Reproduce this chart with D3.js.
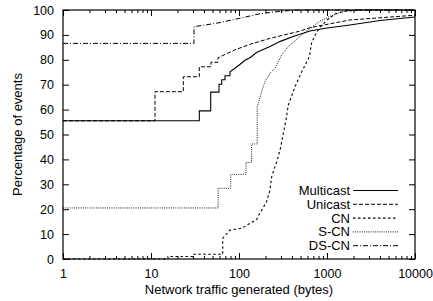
<!DOCTYPE html>
<html>
<head>
<meta charset="utf-8">
<script src="https://cdn.jsdelivr.net/npm/d3@7"></script>
<style>
  body { margin: 0; background: #fff; }
  svg { display: block; font-family: "Liberation Sans", Arial, Helvetica, sans-serif; }
  .axis text { font-size: 12.5px; fill: #000; }
  .axis line { stroke: #000; stroke-width: 1; }
  .axis path { display: none; }
</style>
</head>
<body>
<svg id="svg" width="433" height="301"></svg>
<script>
// cumulative percentage of events vs bytes generated, [bytes, percent]
var multicast = [[1,55.5],[35.4,55.5],[35.4,59.5],[47.7,59.5],[47.7,67],[59.3,67],[59.3,70.2],[63.6,70.2],[63.6,72],
  [69.3,72],[69.3,73.6],[79,73.6],[79,75.2],[90,76.6],[103,78.2],[117,79.8],[133,80.8],[160,83],[225,85.3],[300,87.5],
  [420,89.5],[640,91.6],[1000,92.8],[1820,94],[4000,95.8],[10000,97.2]];
var unicast = [[1,55.5],[11.1,55.5],[11.1,67.2],[23.3,67.2],[23.3,73.2],[35.4,73.2],[35.4,77.2],[48,77.2],[48,79],
  [57.6,79],[57.6,80.8],[70,82.2],[90,84],[133,86.2],[225,88.6],[490,91.5],[640,92.9],[1820,96],[10000,97.9]];
var cn = [[1,0],[15.6,0],[15.6,1],[30,1],[30,1.9],[65.3,1.9],[65.3,8.3],[79,11.6],[107,12.3],[159,15.9],[170,18],
  [206,23],[225,27.7],[235,33],[250,36],[273,39.8],[298,45],[319,50.5],[342,55.8],[363,61.8],[433,69.2],[516,75.2],
  [630,81.2],[670,87],[750,90.6],[832,93],[1000,96],[1250,98.5],[1600,99.6],[2500,100],[10000,100]];
var scn = [[1,20.5],[58,20.5],[58,28.4],[80.5,28.4],[80.5,34],[120,34],[120,38.8],[139,38.8],[139,46.2],[161,46.2],
  [161,61],[181,67.2],[197,71.2],[225,74.6],[256,76.6],[305,81.9],[363,85.3],[516,90],[641,92.6],[832,95.5],
  [1082,97.5],[1500,99.3],[2200,100],[10000,100]];
var dscn = [[1,86.6],[30.8,86.6],[30.8,93.3],[55.8,94.7],[103,96.7],[173,98.5],[300,99.5],[480,100],[10000,100]];

var seriesNames = ["Multicast", "Unicast", "CN", "S-CN", "DS-CN"];
var seriesData = [multicast, unicast, cn, scn, dscn];

var xMajor = [1, 10, 100, 1000, 10000];
var yTicks = [0, 10, 20, 30, 40, 50, 60, 70, 80, 90, 100];

var margin = {top: 10, right: 18, bottom: 42, left: 63};
var W = 433, H = 301;

var styles = [
  {dash: null, width: 1.1},
  {dash: "4,2", width: 1},
  {dash: "2.5,2.5", width: 1.1},
  {dash: "1,1.2", width: 0.9},
  {dash: "5,2,1,2", width: 1}
];

var x = d3.scaleLog().domain([1, 10000]).range([margin.left, W - margin.right]);
var y = d3.scaleLinear().domain([0, 100]).range([H - margin.bottom, margin.top]);

var xMinor = [];
xMajor.slice(0, -1).forEach(function(d) {
  for (var k = 2; k < 10; k++) xMinor.push(d * k);
});

const svg = d3.select("#svg");

// x axes (bottom with labels, top mirrored)
svg.append("g")
    .attr("class", "axis")
    .attr("transform", "translate(0," + y(0) + ")")
    .call(d3.axisBottom(x).tickValues(xMajor).tickSize(-6).tickPadding(10).tickFormat(d3.format("d")));
svg.append("g")
    .attr("class", "axis")
    .attr("transform", "translate(0," + y(0) + ")")
    .call(d3.axisBottom(x).tickValues(xMinor).tickSize(-3).tickFormat(""));
svg.append("g")
    .attr("class", "axis")
    .attr("transform", "translate(0," + y(100) + ")")
    .call(d3.axisTop(x).tickValues(xMajor).tickSize(-6).tickFormat(""));
svg.append("g")
    .attr("class", "axis")
    .attr("transform", "translate(0," + y(100) + ")")
    .call(d3.axisTop(x).tickValues(xMinor).tickSize(-3).tickFormat(""));

// y axes
svg.append("g")
    .attr("class", "axis")
    .attr("transform", "translate(" + x(1) + ",0)")
    .call(d3.axisLeft(y).tickValues(yTicks).tickSize(-6).tickPadding(9));
svg.append("g")
    .attr("class", "axis")
    .attr("transform", "translate(" + x(10000) + ",0)")
    .call(d3.axisRight(y).tickValues(yTicks).tickSize(-6).tickFormat(""));

// frame
svg.append("rect")
    .attr("x", x(1))
    .attr("y", y(100))
    .attr("width", x(10000) - x(1))
    .attr("height", y(0) - y(100))
    .style("fill", "none")
    .style("stroke", "#000")
    .style("stroke-width", 1.2);

var line = d3.line()
    .x(function(d) { return x(d[0]); })
    .y(function(d) { return y(d[1]); });

svg.append("g")
  .selectAll("path")
    .data(seriesData)
  .enter().append("path")
    .attr("d", line)
    .style("fill", "none")
    .style("stroke", "#000")
    .style("stroke-width", function(d, i) { return styles[i].width; })
    .style("stroke-dasharray", function(d, i) { return styles[i].dash; });

// legend
var legend = svg.append("g").attr("class", "legend");
var rows = legend.selectAll("g")
    .data(seriesNames)
  .enter().append("g")
    .attr("transform", function(d, i) { return "translate(0," + (190.5 + i * 13.8) + ")"; });

rows.append("text")
    .attr("x", 350)
    .attr("dy", "0.35em")
    .attr("text-anchor", "end")
    .style("font-size", "13px")
    .text(function(d) { return d; });

rows.append("line")
    .attr("x1", 353)
    .attr("x2", 398)
    .style("stroke", "#000")
    .style("stroke-width", function(d, i) { return styles[i].width; })
    .style("stroke-dasharray", function(d, i) { return styles[i].dash; });

// axis titles
svg.append("text")
    .attr("x", (x(1) + x(10000)) / 2)
    .attr("y", 294)
    .attr("text-anchor", "middle")
    .style("font-size", "13px")
    .text("Network traffic generated (bytes)");

svg.append("text")
    .attr("transform", "translate(22," + ((y(0) + y(100)) / 2) + ") rotate(-90)")
    .attr("text-anchor", "middle")
    .style("font-size", "13px")
    .text("Percentage of events");
</script>
</body>
</html>
